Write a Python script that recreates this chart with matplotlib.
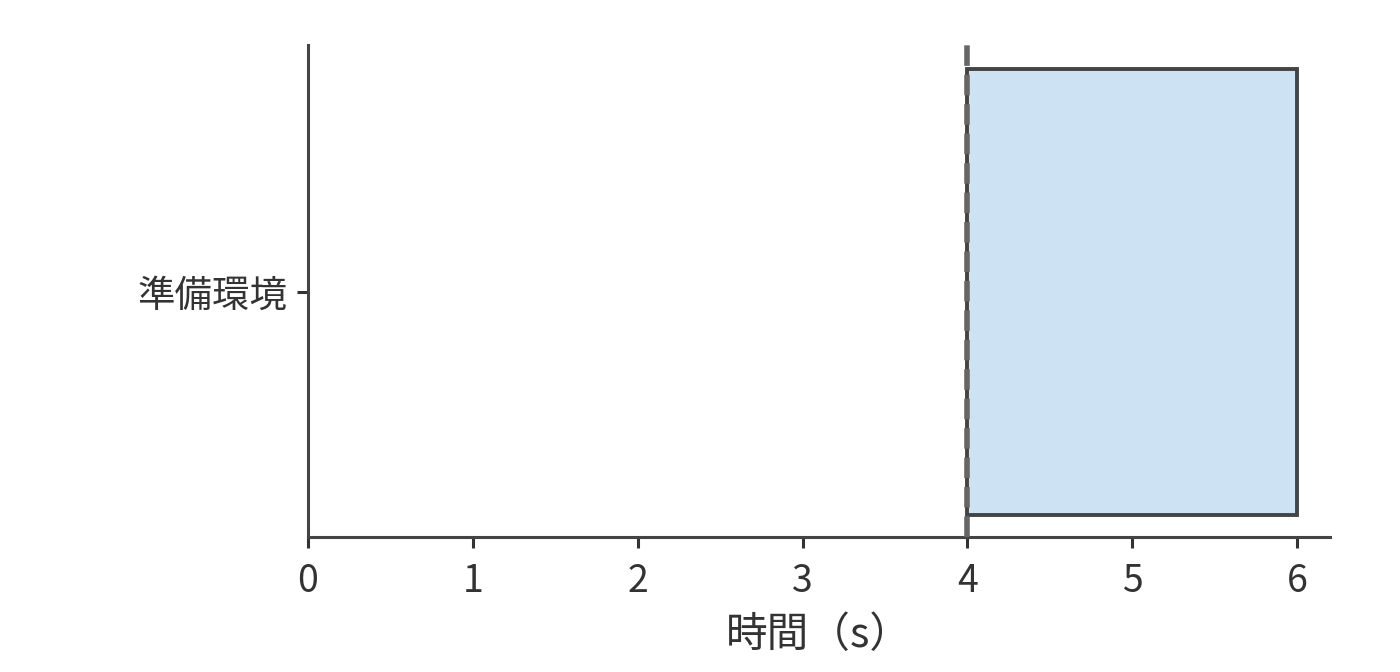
import matplotlib.pyplot as plt

plt.rcParams['font.family'] = ['Noto Sans CJK JP', 'DejaVu Sans']

# データ
tasks = ["準備環境"]
starts = [4]
durations = [2]
marker_x = 4
xticks = [0, 1, 2, 3, 4, 5, 6]

fig, ax = plt.subplots(figsize=(7, 3.36), dpi=200)
fig.subplots_adjust(left=0.22, right=0.95, bottom=0.201, top=0.933)

ax.barh(tasks, durations, left=starts, height=0.8,
        color="#cde3f3", edgecolor="#444444", linewidth=1.4, zorder=2)
ax.axvline(marker_x, color="#666666", linestyle="--", linewidth=2, zorder=3)

ax.set_xlim(0, 6.2)
ax.set_ylim(-0.44, 0.443)
ax.set_xticks(xticks)
ax.set_xlabel("時間（s）", fontsize=15, color="#333333", labelpad=5)

for s in ["top", "right"]:
    ax.spines[s].set_visible(False)
for s in ["left", "bottom"]:
    ax.spines[s].set_color("#444444")
    ax.spines[s].set_linewidth(1.1)

ax.tick_params(axis="both", labelsize=13.5, colors="#333333", width=1.1, length=4)
ax.tick_params(axis="x", pad=5)

plt.savefig("out.png")
